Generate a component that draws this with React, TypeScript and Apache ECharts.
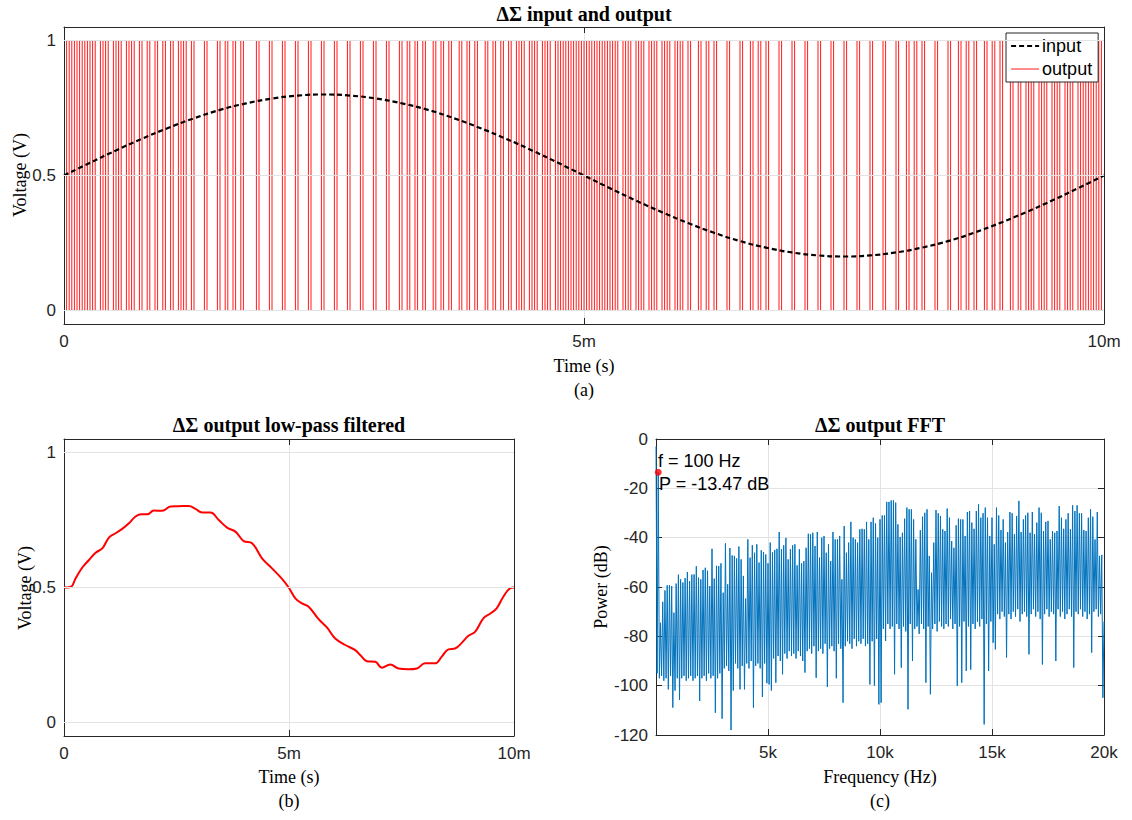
import React, { useEffect, useRef } from "react";
import * as echarts from "echarts";

// ---------- data ----------
// (a) input sine, read every 0.25 ms
const inputTimeMs = [
  0, 0.25, 0.5, 0.75, 1, 1.25, 1.5, 1.75, 2, 2.25, 2.5, 2.75, 3, 3.25, 3.5, 3.75, 4, 4.25, 4.5, 4.75, 5,
  5.25, 5.5, 5.75, 6, 6.25, 6.5, 6.75, 7, 7.25, 7.5, 7.75, 8, 8.25, 8.5, 8.75, 9, 9.25, 9.5, 9.75, 10,
];
const inputVolts = [
  0.5, 0.547, 0.593, 0.636, 0.676, 0.712, 0.743, 0.767, 0.785, 0.796, 0.8, 0.796, 0.785, 0.767, 0.743, 0.712,
  0.676, 0.636, 0.593, 0.547, 0.5, 0.453, 0.407, 0.364, 0.324, 0.288, 0.257, 0.233, 0.215, 0.204, 0.2, 0.204,
  0.215, 0.233, 0.257, 0.288, 0.324, 0.364, 0.407, 0.453, 0.5,
];
// (a) 1-bit output stream, 400 samples (25 us each), in chunks of 10
const outputSampleMs = 0.025;
const outputBitChunks = [
  "1010101010", "1011010110", "1011010110", "1101101101", "1011010110",
  "1111011110", "1101101101", "1111011110", "1111011110", "1111011110",
  "1111011110", "1111011110", "1111011110", "1101101101", "1101101101",
  "1101101101", "1101101101", "1011010110", "1011010110", "1010101010",
  "1010101010", "1010010100", "1010010100", "1010010100", "1000100100",
  "1000010000", "1000100100", "1000010000", "1000010000", "1000010000",
  "1000010000", "1000010000", "1000100100", "1000010000", "1000100100",
  "1000100100", "1000100100", "1010010100", "1010010100", "1010101010",
];
// (b) low-pass filtered output
const filteredTimeMs = [
  0, 0.148, 0.259, 0.407, 0.555, 0.703, 0.851, 0.999, 1.146, 1.294, 1.442, 1.59, 1.723, 1.849, 1.997, 2.182,
  2.367, 2.552, 2.774, 2.922, 3.07, 3.254, 3.439, 3.624, 3.809, 3.994, 4.179, 4.401, 4.623, 4.845, 4.993, 5.141,
  5.288, 5.436, 5.658, 5.843, 6.028, 6.25, 6.472, 6.583, 6.731, 6.916, 7.064, 7.249, 7.433, 7.655, 7.84, 8.025,
  8.247, 8.395, 8.543, 8.691, 8.839, 8.987, 9.135, 9.32, 9.467, 9.615, 9.763, 9.911, 10,
];
const filteredVolts = [
  0.5, 0.502, 0.534, 0.574, 0.602, 0.629, 0.645, 0.685, 0.701, 0.717, 0.738, 0.763, 0.771, 0.771, 0.785, 0.784,
  0.8, 0.801, 0.802, 0.791, 0.778, 0.778, 0.75, 0.722, 0.707, 0.672, 0.664, 0.608, 0.571, 0.532, 0.5, 0.46,
  0.441, 0.429, 0.383, 0.352, 0.311, 0.287, 0.268, 0.25, 0.227, 0.225, 0.203, 0.215, 0.2, 0.197, 0.2, 0.219,
  0.219, 0.244, 0.271, 0.274, 0.295, 0.321, 0.336, 0.386, 0.403, 0.423, 0.466, 0.497, 0.5,
];
// (c) FFT: DC, values at 100*k Hz (k=1..200) and at 100*k+50 Hz (k=0..199)
const fftBinHz = 100;
const fftDcDb = -3;
const fftPeakDb = [
  -13.47, -74.5, -66, -61.4, -59.3, -59.3, -59.6, -70.4, -58.6, -55,
  -56.9, -58.2, -56.4, -53.9, -57.6, -55, -54.9, -51.6, -56.2, -56.9,
  -53.1, -52.2, -53.4, -59.6, -44.5, -56.6, -51.4, -51.5, -50.4, -62.3,
  -42.3, -58.9, -44.2, -47.2, -47.4, -48.4, -43.6, -48.8, -55.5, -64.7,
  -40.7, -48.1, -43, -46.1, -42.7, -50.1, -45.1, -45.8, -46.8, -50.4,
  -42, -46, -45, -44.5, -37.7, -44.7, -43.1, -40.1, -48.8, -44.7,
  -43.1, -42.7, -51.2, -44.7, -50.4, -49.5, -44.1, -38.4, -38.6, -38,
  -43.4, -37.7, -48.1, -40, -39.3, -46.1, -42.7, -49.5, -37.7, -40.7,
  -40.7, -39.3, -56.9, -35.3, -46.1, -42, -33.6, -40, -40.7, -42,
  -36.6, -36.4, -36.6, -33.6, -40.7, -33.6, -31.9, -34.2, -40, -32.6,
  -31, -31, -25.5, -25.5, -24.9, -24.9, -25.8, -34.6, -39.7, -38,
  -32.3, -27.8, -28.5, -28.5, -32.6, -40.7, -61, -37, -31.5, -29.9,
  -28.5, -47.4, -54.2, -42, -28.8, -30.1, -31.2, -36.6, -37.3, -28.2,
  -31.9, -41.4, -44.1, -35, -32.3, -32.6, -32.6, -39.3, -29.6, -29.2,
  -33.9, -36.4, -29.2, -26.5, -31.9, -30.1, -27.8, -31.9, -39.3, -31.9,
  -42.7, -27.8, -31, -36.9, -32.6, -42, -37.7, -29.6, -30.1, -38.6,
  -31.2, -25.1, -37.7, -32.6, -31, -29.9, -38, -29.6, -38.6, -33.9,
  -27.8, -29.9, -37.3, -33.6, -33.2, -40.7, -37.3, -38, -37.3, -27.2,
  -31.9, -36.4, -32.6, -30.1, -36.6, -26.9, -29.2, -26.9, -30.1, -30.1,
  -36.9, -37.3, -31.9, -28.5, -31.5, -40.7, -29.6, -47.4, -47, -74,
];
const fftMidDb = [
  -95, -97, -96, -98, -97, -101.5, -96, -108.9, -102, -97,
  -105.8, -97, -96, -98, -97, -96, -98, -97, -96, -106.2,
  -97, -96, -98, -95, -97, -96, -111, -97, -95, -113.4,
  -93, -92, -94, -118, -102, -91, -93, -101.5, -92, -101.5,
  -91, -93, -90, -108.9, -92, -91, -93, -104.6, -91, -99,
  -99.5, -102, -89, -98.8, -88, -90, -95.4, -87, -89, -86,
  -88, -87, -89, -86, -88, -90, -94.7, -86, -85, -87,
  -84, -96.8, -86, -85, -87, -83, -100.5, -85, -84, -86,
  -97, -83, -85, -106.9, -84, -82, -83, -85, -81, -84,
  -82, -83, -81, -84, -83, -99.5, -82, -100, -81, -107.6,
  -106.9, -77, -81.9, -75, -77, -76, -95.4, -75, -77, -92.7,
  -76, -78, -109.6, -75, -90, -77, -76, -79, -75, -77,
  -98.8, -76, -103.5, -77, -75, -78, -74, -76, -77, -75,
  -76, -73, -77, -75, -100.1, -76, -98.8, -74, -94, -76,
  -93.5, -75, -77, -74, -76, -73, -115.7, -75, -94, -74,
  -82.6, -85.3, -71, -73, -70, -72, -88.6, -71, -73, -70,
  -72, -69, -74, -71, -70, -72, -87.3, -71, -69, -72,
  -70, -73, -91.4, -71, -69, -72, -70, -71, -90, -69,
  -72, -70, -73, -71, -69, -72, -92.7, -70, -71, -69,
  -72, -70, -73, -71, -86.6, -70, -69, -72, -71, -104.9,
];
const markerHz = 100;
const markerDb = -13.47;
const voltTicks = [0, 0.5, 1];

// ---------- styles ----------
const AX = "#262626";
const GRIDC = "#e3e3e3";
const SANS = '"Liberation Sans", Arial, Helvetica, sans-serif';
const SERIF = '"Liberation Serif", "Times New Roman", Times, serif';
const TICK_FS = 17;
const INPUT_LINE = { color: "#000", width: 2.2, type: [5, 3] };
const OUTPUT_LINE = { color: "#ff0000", width: 0.9 };

function buildOption() {
  const bits = outputBitChunks.join("");
  const outputData: number[][] = [];
  for (let i = 0; i < bits.length; i++) outputData.push([i * outputSampleMs, Number(bits[i])]);
  outputData.push([bits.length * outputSampleMs, Number(bits[bits.length - 1])]);

  const inputData = inputTimeMs.map((t, i) => [t, inputVolts[i]]);
  const filteredData = filteredTimeMs.map((t, i) => [t, filteredVolts[i]]);

  const fftData: number[][] = [[0, fftDcDb]];
  for (let k = 0; k < fftPeakDb.length; k++) {
    fftData.push([k * fftBinHz + fftBinHz / 2, fftMidDb[k]]);
    fftData.push([(k + 1) * fftBinHz, fftPeakDb[k]]);
  }

  const timeFmt = (v: number) => (v === 0 ? "0" : `${v}m`);
  const freqFmt = (v: number) => (v === 0 ? "" : `${v / 1000}k`);

  const xAx = (gridIndex: number, min: number, max: number, interval: number, fmt: any, top: boolean) => ({
    type: "value",
    gridIndex,
    min,
    max,
    interval,
    position: top ? "top" : "bottom",
    axisLine: { show: true, onZero: false, lineStyle: { color: AX, width: 1 } },
    axisTick: { show: true, inside: true, length: 6, lineStyle: { color: AX, width: 1 } },
    axisLabel: top
      ? { show: false }
      : { show: true, fontFamily: SANS, fontSize: TICK_FS, color: AX, margin: 9, formatter: fmt, showMinLabel: true, showMaxLabel: true },
    splitLine: { show: !top, lineStyle: { color: GRIDC, width: 1, type: "solid" } },
  });
  const yVolt = (gridIndex: number, right: boolean) => ({
    type: "value",
    gridIndex,
    min: -0.05,
    max: 1.05,
    position: right ? "right" : "left",
    axisLine: { show: true, onZero: false, lineStyle: { color: AX, width: 1 } },
    axisTick: { show: true, inside: true, length: 6, customValues: voltTicks, lineStyle: { color: AX, width: 1 } },
    axisLabel: right
      ? { show: false }
      : { show: true, customValues: voltTicks, fontFamily: SANS, fontSize: TICK_FS, color: AX, margin: 8, formatter: (v: number) => String(v) },
    splitLine: { show: false },
  });
  const yDb = (gridIndex: number, right: boolean) => ({
    type: "value",
    gridIndex,
    min: -120,
    max: 0,
    interval: 20,
    position: right ? "right" : "left",
    axisLine: { show: true, onZero: false, lineStyle: { color: AX, width: 1 } },
    axisTick: { show: true, inside: true, length: 6, lineStyle: { color: AX, width: 1 } },
    axisLabel: right
      ? { show: false }
      : { show: true, fontFamily: SANS, fontSize: TICK_FS, color: AX, margin: 8, showMinLabel: true, showMaxLabel: true },
    splitLine: { show: !right, lineStyle: { color: GRIDC, width: 1, type: "solid" } },
  });

  const gridMarks = (xi: number, yi: number) => ({
    type: "line",
    xAxisIndex: xi,
    yAxisIndex: yi,
    data: [[0, 0.5]],
    symbol: "none",
    silent: true,
    z: 1,
    lineStyle: { opacity: 0 },
    markLine: {
      silent: true,
      symbol: ["none", "none"],
      label: { show: false },
      lineStyle: { color: GRIDC, type: "solid", width: 1 },
      data: voltTicks.map((v) => ({ yAxis: v })),
      animation: false,
    },
  });

  const txt = (x: number, y: number, text: string, font: string, rotation = 0) => ({
    type: "text",
    x,
    y,
    rotation,
    silent: true,
    style: { text, font, fill: "#000", textAlign: "center", textVerticalAlign: "middle" },
  });
  const TITLE_FONT = `bold 20px ${SERIF}`;
  const LABEL_FONT = `18px ${SERIF}`;

  return {
    animation: false,
    backgroundColor: "#fff",
    grid: [
      { left: 64, top: 27, width: 1040, height: 297 },
      { left: 64, top: 439, width: 450, height: 297 },
      { left: 656, top: 439, width: 448, height: 296 },
    ],
    xAxis: [
      xAx(0, 0, 10, 5, timeFmt, false),
      xAx(0, 0, 10, 5, timeFmt, true),
      xAx(1, 0, 10, 5, timeFmt, false),
      xAx(1, 0, 10, 5, timeFmt, true),
      xAx(2, 0, 20000, 5000, freqFmt, false),
      xAx(2, 0, 20000, 5000, freqFmt, true),
    ],
    yAxis: [yVolt(0, false), yVolt(0, true), yVolt(1, false), yVolt(1, true), yDb(2, false), yDb(2, true)],
    legend: {
      data: [
        { name: "input", lineStyle: INPUT_LINE },
        { name: "output", lineStyle: OUTPUT_LINE },
      ],
      orient: "vertical",
      left: 1006,
      top: 33,
      padding: [4, 6, 4, 4],
      itemWidth: 28,
      itemHeight: 12,
      itemGap: 5,
      selectedMode: false,
      backgroundColor: "#fff",
      borderColor: AX,
      borderWidth: 1,
      borderRadius: 0,
      itemStyle: { opacity: 0 },
      textStyle: { fontFamily: SANS, fontSize: 18, color: "#000", padding: [0, 0, 0, -2] },
    },
    graphic: [
      txt(584, 14, "ΔΣ input and output", TITLE_FONT),
      txt(20, 175, "Voltage (V)", LABEL_FONT, Math.PI / 2),
      txt(584, 366, "Time (s)", LABEL_FONT),
      txt(584, 390, "(a)", LABEL_FONT),
      txt(289, 425, "ΔΣ output low-pass filtered", TITLE_FONT),
      txt(25, 588, "Voltage (V)", LABEL_FONT, Math.PI / 2),
      txt(289, 777, "Time (s)", LABEL_FONT),
      txt(289, 801, "(b)", LABEL_FONT),
      txt(880, 425, "ΔΣ output FFT", TITLE_FONT),
      txt(601, 587, "Power (dB)", LABEL_FONT, Math.PI / 2),
      txt(880, 777, "Frequency (Hz)", LABEL_FONT),
      txt(880, 801, "(c)", LABEL_FONT),
      {
        type: "text",
        x: 658,
        y: 461,
        silent: true,
        z: 50,
        style: { text: "f = 100 Hz", font: `18px ${SANS}`, fill: "#000", textAlign: "left", textVerticalAlign: "middle" },
      },
      {
        type: "text",
        x: 659,
        y: 484,
        silent: true,
        z: 50,
        style: { text: "P = -13.47 dB", font: `18px ${SANS}`, fill: "#000", textAlign: "left", textVerticalAlign: "middle" },
      },
    ],
    series: [
      gridMarks(0, 0),
      {
        name: "output",
        type: "line",
        xAxisIndex: 0,
        yAxisIndex: 0,
        step: "end",
        data: outputData,
        symbol: "none",
        z: 2,
        lineStyle: OUTPUT_LINE,
        itemStyle: { color: "#ff0000" },
      },
      {
        name: "input",
        type: "line",
        xAxisIndex: 0,
        yAxisIndex: 0,
        data: inputData,
        smooth: true,
        symbol: "none",
        z: 3,
        lineStyle: INPUT_LINE,
        itemStyle: { color: "#000" },
      },
      gridMarks(2, 2),
      {
        name: "filtered",
        type: "line",
        xAxisIndex: 2,
        yAxisIndex: 2,
        data: filteredData,
        smooth: 0.4,
        symbol: "none",
        z: 2,
        lineStyle: { color: "#ff0000", width: 2 },
      },
      {
        name: "fft",
        type: "line",
        xAxisIndex: 4,
        yAxisIndex: 4,
        data: fftData,
        symbol: "none",
        z: 2,
        lineStyle: { color: "#0072BD", width: 1 },
      },
      {
        name: "marker",
        type: "scatter",
        xAxisIndex: 4,
        yAxisIndex: 4,
        data: [[markerHz, markerDb]],
        symbol: "circle",
        symbolSize: 7,
        z: 5,
        itemStyle: { color: "#ff0000" },
      },
    ],
  };
}

export default function App() {
  const ref = useRef<HTMLDivElement>(null);
  useEffect(() => {
    if (!ref.current) return;
    const chart = echarts.init(ref.current, null, { renderer: "svg" });
    chart.setOption(buildOption() as any);
    return () => chart.dispose();
  }, []);
  return (
    <div
      ref={ref}
      style={{ position: "absolute", left: 0, top: 0, width: 1132, height: 820, background: "#fff" }}
    />
  );
}
